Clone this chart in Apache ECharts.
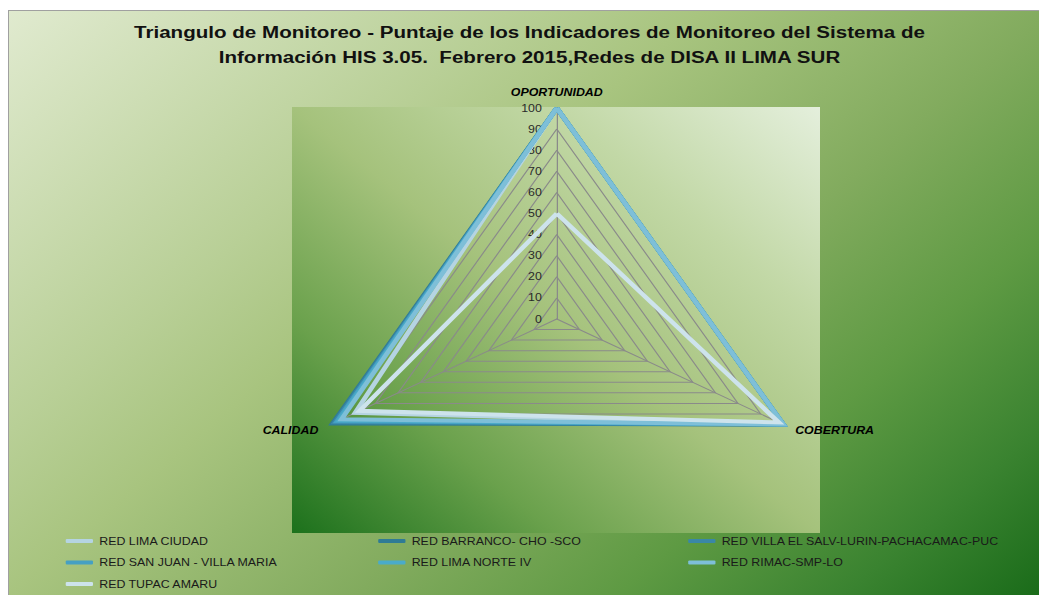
<!DOCTYPE html>
<html>
<head>
<meta charset="utf-8">
<script src="https://cdn.jsdelivr.net/npm/echarts@6/dist/echarts.min.js"></script>
<style>
  html, body { margin: 0; padding: 0; background: #ffffff; width: 1039px; height: 595px; overflow: hidden; }
  #frame { position: absolute; left: 8px; top: 10px; width: 1040px; height: 590px;
    border: 1px solid #a0a0a0; box-sizing: border-box;
    background: linear-gradient(140deg, #e0eacf 0%, #b8cf96 29%, #a8c47f 40%, #82ab5e 60%, #5e9a43 75%, #3a8330 88%, #186a18 100%); }
  #plot { position: absolute; left: 292px; top: 107px; width: 528px; height: 426px;
    background: linear-gradient(to bottom left, #e4efdc 0%, #c2d8a6 25%, #a5c27c 50%, #6aa14c 75%, #1c711c 100%); }
  #chart { position: absolute; left: 0; top: 0; width: 838px; height: 595px;
    transform: scaleX(1.24); transform-origin: 0 0; }
</style>
</head>
<body>
<div id="frame"></div>
<div id="plot"></div>
<div id="chart"></div>
<script>
// Indicators in display order (counter-clockwise from top: top, lower-left, lower-right)
const indicators = ['OPORTUNIDAD', 'CALIDAD', 'COBERTURA'];
const indicatorMax = 100;

const seriesNames = [
  'RED LIMA CIUDAD',
  'RED BARRANCO- CHO -SCO',
  'RED VILLA EL SALV-LURIN-PACHACAMAC-PUC',
  'RED SAN JUAN - VILLA MARIA',
  'RED LIMA NORTE IV',
  'RED RIMAC-SMP-LO',
  'RED TUPAC AMARU'
];
// values: [OPORTUNIDAD, CALIDAD, COBERTURA]
const redLimaCiudad   = [100, 89, 100];
const redBarranco     = [100, 99, 100];
const redVillaElSalv  = [100, 98, 100];
const redSanJuan      = [100, 97, 100];
const redLimaNorteIV  = [100, 96, 100];
const redRimac        = [100, 95, 100];
const redTupacAmaru   = [50, 87, 98];

const seriesValues = [redLimaCiudad, redBarranco, redVillaElSalv, redSanJuan, redLimaNorteIV, redRimac, redTupacAmaru];
const seriesColors = ['#b5d4e2', '#2f7b95', '#3a87a7', '#46a0c3', '#4aabc9', '#7ebfd8', '#cde3ec'];

const FONT = "'Liberation Sans', Arial, sans-serif";

const chart = echarts.init(document.getElementById('chart'), null, { renderer: 'svg' });

const legendBase = {
  orient: 'vertical',
  top: 535,
  padding: 0,
  itemGap: 9.5,
  itemWidth: 22,
  itemHeight: 4,
  icon: 'roundRect',
  selectedMode: false,
  textStyle: { fontFamily: FONT, fontSize: 10, color: '#1a1a1a', lineHeight: 12 }
};

const option = {
  backgroundColor: 'transparent',
  animation: false,
  title: {
    text: 'Triangulo de Monitoreo - Puntaje de los Indicadores de Monitoreo del Sistema de\nInformación HIS 3.05.  Febrero 2015,Redes de DISA II LIMA SUR',
    left: 427,
    top: 20,
    padding: 0,
    textAlign: 'center',
    textStyle: { fontFamily: FONT, fontSize: 16.6, fontWeight: 'bold', color: '#111', lineHeight: 25, align: 'center' }
  },
  legend: [
    Object.assign({}, legendBase, { left: 53, data: [seriesNames[0], seriesNames[3], seriesNames[6]] }),
    Object.assign({}, legendBase, { left: 305, data: [seriesNames[1], seriesNames[4]] }),
    Object.assign({}, legendBase, { left: 555, data: [seriesNames[2], seriesNames[5]] })
  ],
  radar: {
    center: [449, 319],
    radius: 211,
    startAngle: 90,
    shape: 'polygon',
    splitNumber: 10,
    nameGap: 11,
    indicator: indicators.map((n, i) => ({
      name: n, min: 0, max: indicatorMax,
      axisLabel: { show: i === 0 }
    })),
    axisName: { color: '#000', fontStyle: 'italic', fontWeight: 'bold', fontSize: 10, fontFamily: FONT },
    axisLine: { lineStyle: { color: '#8a8a8a', width: 1 } },
    splitLine: { lineStyle: { color: '#8a8a8a', width: 1 } },
    splitArea: { show: false },
    axisTick: { show: false },
    axisLabel: { show: true, color: '#2a2a2a', fontSize: 10, fontFamily: FONT, margin: 12 }
  },
  series: seriesNames.map((name, i) => ({
    name: name,
    type: 'radar',
    symbol: 'none',
    z: 2 + i,
    lineStyle: { width: 4, color: seriesColors[i], join: 'miter' },
    itemStyle: { color: seriesColors[i] },
    data: [{ value: seriesValues[i], name: name }]
  }))
};

chart.setOption(option);
</script>
</body>
</html>
